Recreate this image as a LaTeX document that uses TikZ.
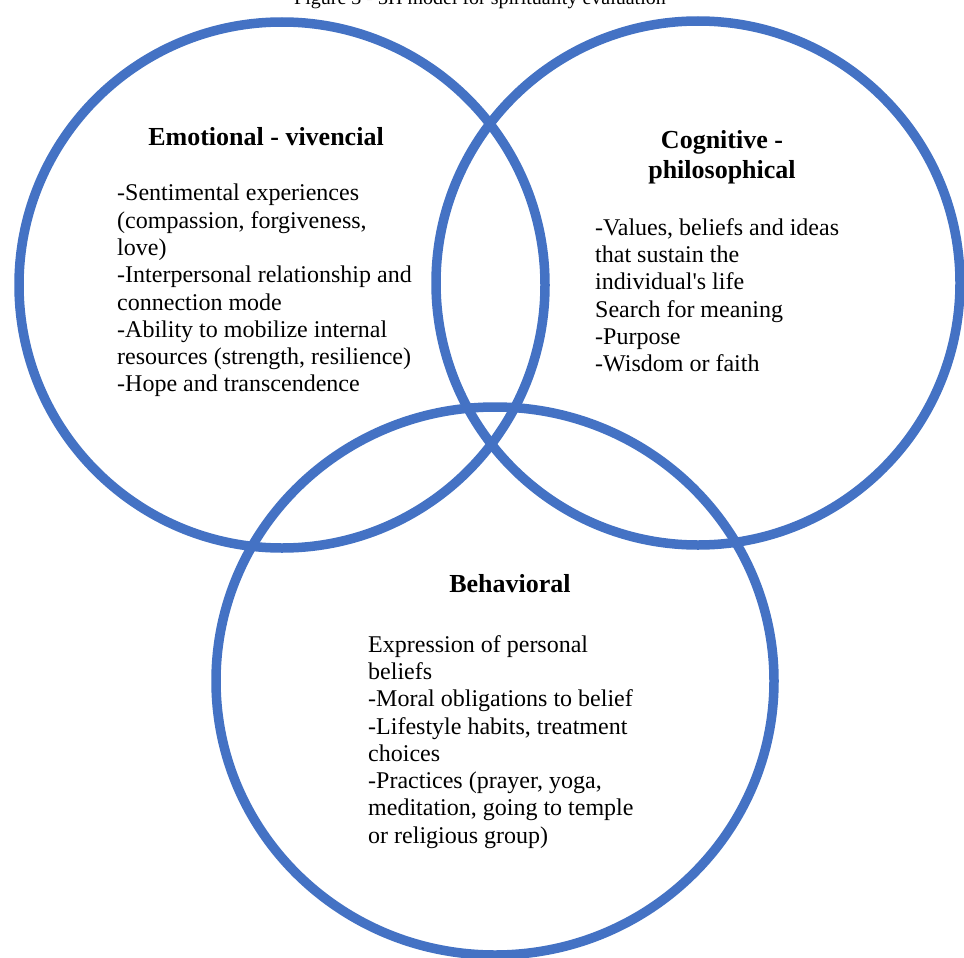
\documentclass[tikz,border=0pt]{standalone}
\usepackage{fontspec}
\setmainfont{Liberation Serif}
\definecolor{ringblue}{RGB}{68,114,196}
\begin{document}
\begin{tikzpicture}[x=1pt,y=-1pt,
  ring/.style={draw=ringblue,line width=9.5pt},
  head/.style={font=\fontsize{26}{30}\selectfont\bfseries,align=center,inner sep=0pt},
  body/.style={font=\fontsize{24}{27.3}\selectfont,align=left,inner sep=0pt,anchor=north west},
  caption/.style={font=\fontsize{20}{24}\selectfont,inner sep=0pt,anchor=base}]
\useasboundingbox (0,0) rectangle (964,958);
\clip (0,0) rectangle (964,958);
\fill[white] (0,0) rectangle (964,958);
\node[caption] (cap) at (480,5) {Figure 3 - 3H model for spirituality evaluation};
\coordinate (cL) at (282,285);
\coordinate (cR) at (698,283);
\coordinate (cB) at (495,681);
\draw[ring] (cL) circle[radius=263];
\draw[ring] (cR) circle[radius=262];
\draw[ring] (cB) ellipse[x radius=279, y radius=274];
\node[head,anchor=base] (tL) at (266,145) {Emotional - vivencial};
\node[body] (bL) at (117,184) {-Sentimental experiences\\(compassion, forgiveness,\\love)\\-Interpersonal relationship and\\connection mode\\-Ability to mobilize internal\\resources (strength, resilience)\\-Hope and transcendence};
\node[head,anchor=north] (tR) at (722,130) {Cognitive -\\philosophical};
\node[body] (bR) at (595,218) {-Values, beliefs and ideas\\that sustain the\\individual\textquotesingle s life\\Search for meaning\\-Purpose\\-Wisdom or faith};
\node[head,anchor=base] (tB) at (510,592) {Behavioral};
\node[body] (bB) at (368,635) {Expression of personal\\beliefs\\-Moral obligations to belief\\-Lifestyle habits, treatment\\choices\\-Practices (prayer, yoga,\\meditation, going to temple\\or religious group)};
\end{tikzpicture}
\end{document}
